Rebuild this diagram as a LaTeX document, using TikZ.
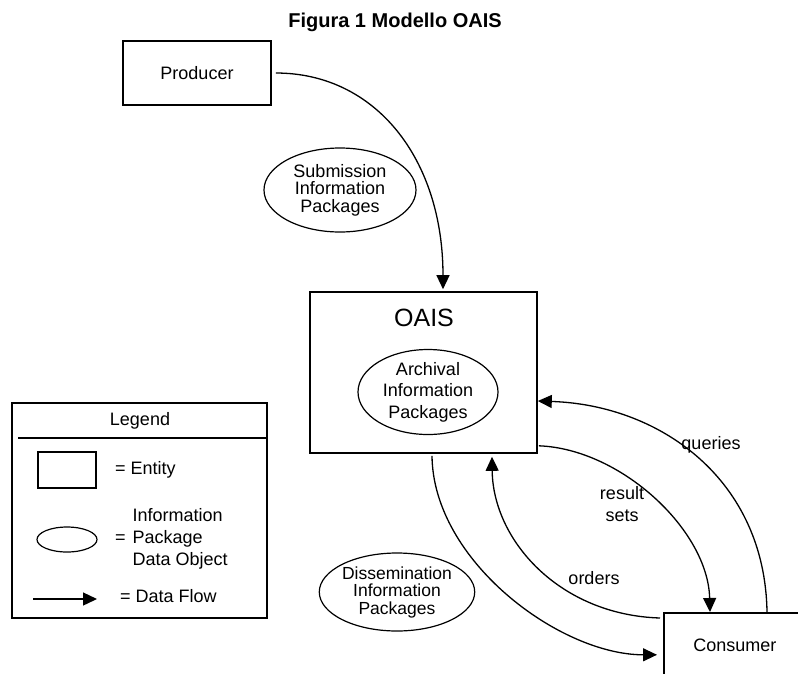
\documentclass[tikz,border=0pt]{standalone}
\usepackage{fontspec}
\setmainfont{Liberation Sans}
\usetikzlibrary{arrows.meta,shapes.geometric}

\tikzset{
  entity/.style={draw, line width=1.6pt, rectangle, inner sep=0pt},
  package/.style={draw, line width=1.2pt, ellipse, inner sep=0pt, align=center},
  flow/.style={line width=1.3pt, -{Triangle[length=14pt,width=13pt]}},
  lbl/.style={inner sep=0pt, align=center},
}

\begin{document}
\begin{tikzpicture}[x=1pt,y=-1pt,font=\fontsize{18}{22}\selectfont]
    \useasboundingbox (0,0) rectangle (798,673);
    \clip (0,0) rectangle (798,673);

    \node[lbl, font=\bfseries\fontsize{20}{24}\selectfont] (title) at (395,22) {Figura 1 Modello OAIS};

    \node[entity, minimum width=148pt, minimum height=64pt] (producer) at (197,73) {Producer};
    \node[entity, minimum width=227pt, minimum height=161pt] (oais) at (423.5,372.5) {};
    \node[lbl, font=\fontsize{25}{30}\selectfont] (oaisname) at (424,318) {OAIS};
    \node[entity, anchor=north west, minimum width=142pt, minimum height=64pt] (consumer) at (663,612) {Consumer};

    \node[package, minimum width=152pt, minimum height=84pt, font=\fontsize{18}{17.5}\selectfont] (sip) at (340,190) {Submission\\Information\\Packages};
    \node[package, minimum width=140pt, minimum height=85pt, font=\fontsize{18}{21.5}\selectfont] (aip) at (428,392) {Archival\\Information\\Packages};
    \node[package, minimum width=149pt, minimum height=78pt, font=\fontsize{17.5}{17.5}\selectfont] (dip) at (397,592) {Dissemination\\Information\\Packages};

    \draw[flow] ([xshift=4pt]producer.east) .. controls +(100,0) and +(0,-130) .. ([xshift=19.5pt,yshift=2pt]oais.north);
    \draw[flow] ([xshift=8.5pt,yshift=-2pt]oais.south) .. controls +(1,105) and +(-97,0) .. ([xshift=-6pt,yshift=-10pt]consumer.west);
    \draw[flow] ([xshift=-3pt,yshift=-6pt]consumer.north west) .. controls +(-100,-3) and +(1,84) .. ([xshift=68.5pt,yshift=-3pt]oais.south);
    \draw[flow] ([xshift=1pt,yshift=8pt]oais.south east) .. controls +(82,3) and +(-2,-82) .. ([xshift=47pt]consumer.north west);
    \draw[flow] ([xshift=104pt]consumer.north west) .. controls +(-2,-132) and +(123,4) .. ([yshift=-28.5pt]oais.east);

    \node[lbl] (queries) at (711,445) {queries};
    \node[lbl] (resultsets) at (622,504) {result\\sets};
    \node[lbl] (orders) at (594,578) {orders};

    \node[entity, minimum width=255pt, minimum height=215pt] (legend) at (139.5,510.5) {};
    \node[lbl] (legendname) at (140,421) {Legend};
    \draw[line width=1.2pt] (18,438) -- (267,438);
    \node[entity, minimum width=58pt, minimum height=36pt] (keyentity) at (67,470) {};
    \node[lbl, anchor=west] (keyentitytext) at (115,470) {= Entity};
    \node[package, minimum width=60pt, minimum height=25pt] (keypackage) at (67,539.5) {};
    \node[lbl, anchor=west] (keypackagetext) at (115,539) {\begin{tabular}{@{}l@{\hspace{7pt}}l@{}} & Information\\ = & Package\\ & Data Object\end{tabular}};
    \coordinate (keyflowstart) at (33,599);
    \coordinate (keyflowend) at (97,599);
    \draw[flow] (keyflowstart) -- (keyflowend);
    \node[lbl, anchor=west] (keyflowtext) at (120,596) {= Data Flow};
\end{tikzpicture}
\end{document}
